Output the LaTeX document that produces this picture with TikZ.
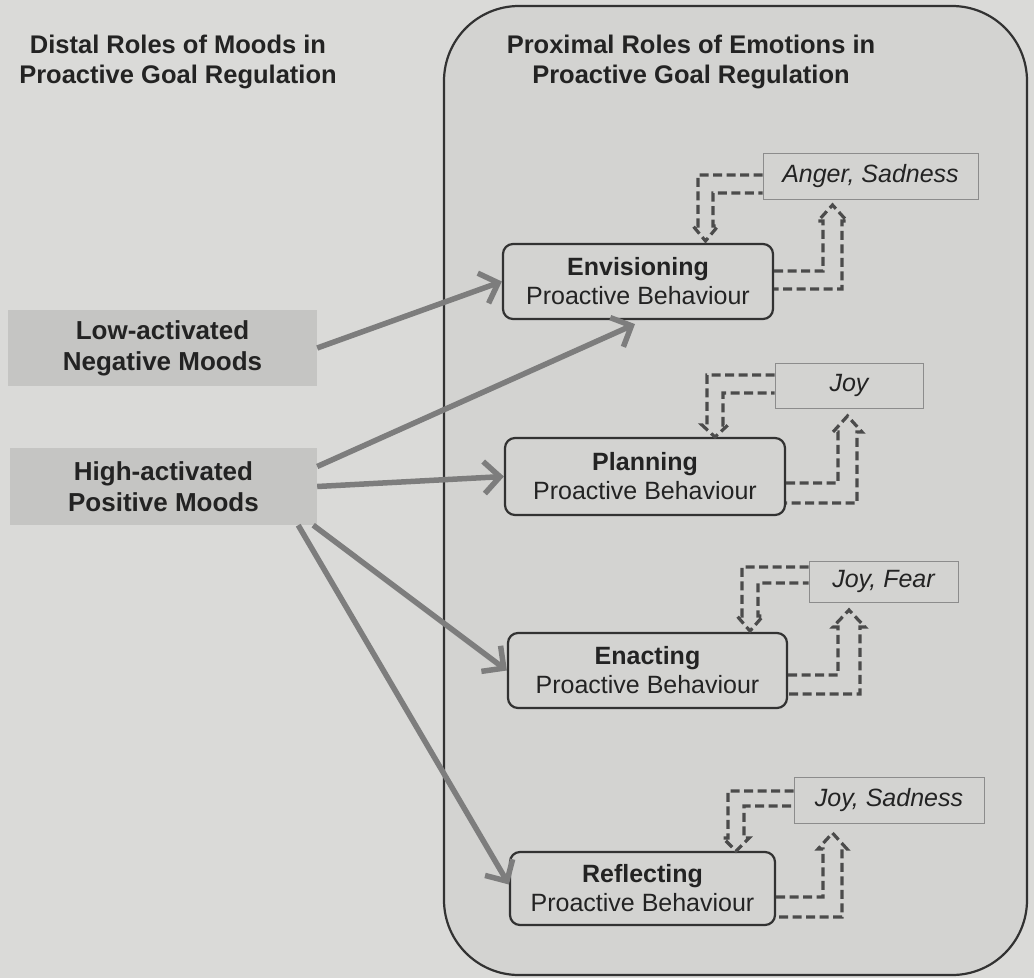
\documentclass[tikz,border=0pt]{standalone}
\usepackage{fontspec}
\setmainfont{Liberation Sans}
\usetikzlibrary{arrows.meta,calc}
\definecolor{bg}{RGB}{218,218,216}
\definecolor{bigfill}{RGB}{211,211,209}
\definecolor{moodfill}{RGB}{197,197,195}
\definecolor{txt}{RGB}{35,35,35}
\definecolor{frame}{RGB}{50,50,50}
\definecolor{arrowgray}{RGB}{125,125,125}
\definecolor{dashgray}{RGB}{75,75,75}
\definecolor{emoborder}{RGB}{140,140,140}
\tikzset{
  titletext/.style={align=center, font=\bfseries\fontsize{25.5}{30}\selectfont, text=txt},
  moodbox/.style={fill=moodfill, draw=none, align=center, inner sep=0pt,
    font=\bfseries\fontsize{26}{31}\selectfont, text=txt},
  procbox/.style={draw=frame, line width=2.2pt, rounded corners=10pt, fill=bigfill,
    align=center, inner sep=0pt, font=\fontsize{25}{29}\selectfont, text=txt},
  emobox/.style={draw=emoborder, line width=0.9pt, fill=bigfill, inner sep=0pt,
    font=\itshape\fontsize{25}{29}\selectfont, text=txt},
  conn/.style={draw=arrowgray, line width=5.5pt,
    -{Straight Barb[length=16pt,width=32pt,line width=5.5pt]}},
  dashbent/.style={draw=dashgray, line width=3.2pt, dash pattern=on 9pt off 4.5pt, line join=miter}
}
% down bent arrow: #1 emotion node, #2 outer y, #3 inner y, #4 outer x, #5 inner x, #6 head base y, #7 tip y
\newcommand\downbent[7]{%
  \draw[dashbent] (#1.west |- 0,#2) -- (#4,#2) -- (#4,#6) -- (#4-5,#6) -- ({(#4+#5)/2},#7)
    -- (#5+5,#6) -- (#5,#6) -- (#5,#3) -- (#1.west |- 0,#3);}
% up bent arrow: #1 process node, #2 upper y, #3 lower y, #4 inner x, #5 outer x, #6 head base y, #7 tip y
\newcommand\upbent[7]{%
  \draw[dashbent] (#1.east |- 0,#2) -- (#4,#2) -- (#4,#6) -- (#4-5,#6) -- ({(#4+#5)/2},#7)
    -- (#5+5,#6) -- (#5,#6) -- (#5,#3) -- (#1.east |- 0,#3);}
\begin{document}
\begin{tikzpicture}[x=1pt,y=-1pt]
\fill[bg] (0,0) rectangle (1034,978);
\useasboundingbox (0,0) rectangle (1034,978);
% large container
\draw[frame, line width=2.2pt, fill=bigfill, rounded corners=75pt] (444,6) rectangle (1027,975);
% titles
\node[titletext] (ltitle) at (178,62) {Distal Roles of Moods in\\Proactive Goal Regulation};
\node[titletext] (rtitle) at (691,62) {Proximal Roles of Emotions in\\Proactive Goal Regulation};
% mood boxes
\node[moodbox, minimum width=309pt, minimum height=76pt] (low) at (162.5,348) {Low-activated\\Negative Moods};
\node[moodbox, minimum width=307pt, minimum height=77pt] (high) at (163.5,486.5) {High-activated\\Positive Moods};
% process boxes
\node[procbox, minimum width=270pt, minimum height=75pt] (env) at (638,281.5) {{\bfseries Envisioning}\\Proactive Behaviour};
\node[procbox, minimum width=280pt, minimum height=77pt] (plan) at (645,476.5) {{\bfseries Planning}\\Proactive Behaviour};
\node[procbox, minimum width=279pt, minimum height=75pt] (enact) at (647.5,670.5) {{\bfseries Enacting}\\Proactive Behaviour};
\node[procbox, minimum width=265pt, minimum height=73pt] (refl) at (642.5,888.5) {{\bfseries Reflecting}\\Proactive Behaviour};
% emotion boxes
\node[emobox, minimum width=215pt, minimum height=46pt] (anger) at (870.5,176) {Anger, Sadness};
\node[emobox, minimum width=148pt, minimum height=45pt] (joy) at (849,385.5) {Joy};
\node[emobox, minimum width=149pt, minimum height=41pt] (fear) at (883.5,581.5) {Joy, Fear};
\node[emobox, minimum width=190pt, minimum height=46pt] (sad) at (889,800) {Joy, Sadness};
% mood arrows
\draw[conn] (low.east) -- (env.west);
\draw[conn] ($(high.east)+(0,-20)$) -- ($(env.south)+(-3,4)$);
\draw[conn] (high.east) -- (plan.west);
\draw[conn] ($(high.south east)+(-4,0)$) -- (enact.west);
\draw[conn] ($(high.south east)+(-19,0)$) -- ($(refl.west)+(0,-4)$);
% dashed bent arrows
\downbent{anger}{175}{193}{698}{713}{226}{241}
\upbent{env}{271}{289}{823}{842}{221}{205}
\downbent{joy}{375}{393}{707}{723}{425}{437}
\upbent{plan}{483}{503}{838}{857}{432}{416}
\downbent{fear}{567}{583}{742}{758}{616}{631}
\upbent{enact}{675}{694}{838}{860}{627}{610}
\downbent{sad}{791}{806}{728}{744}{838}{851}
\upbent{refl}{897}{917}{823}{842}{849}{833}
\end{tikzpicture}
\end{document}
